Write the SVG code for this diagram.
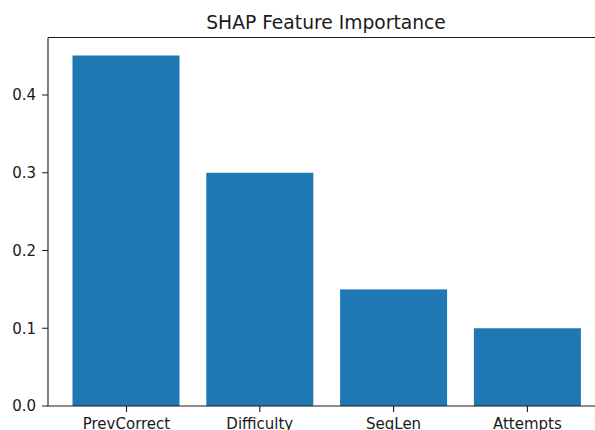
<svg xmlns="http://www.w3.org/2000/svg" width="595" height="430" viewBox="0 0 595 430">
<style>
text{font-family:"DejaVu Sans","Liberation Sans",sans-serif;fill:#1a1a1a}
.tl{font-size:15px}
.bar{fill:#1f77b4}
.sp{stroke:#1a1a1a;stroke-width:1.1;fill:none}
</style>
<rect width="595" height="430" fill="#fff"/>
<text x="326" y="29" font-size="18.7" text-anchor="middle">SHAP Feature Importance</text>
<g id="bars">
<g id="bar-prevcorrect"><rect class="bar" x="72.5" y="55.5" width="107" height="350.5"/></g>
<g id="bar-difficulty"><rect class="bar" x="206.3" y="172.75" width="107" height="233.25"/></g>
<g id="bar-seqlen"><rect class="bar" x="340.1" y="289.4" width="107" height="116.6"/></g>
<g id="bar-attempts"><rect class="bar" x="473.9" y="328.25" width="107" height="77.75"/></g>
</g>
<g id="axes">
<path class="sp" d="M48 37.5V406H595M48 37.5H595"/>
<path class="sp" d="M42 406H48M42 328.25H48M42 250.5H48M42 172.75H48M42 95H48"/>
<path class="sp" d="M126.5 406V412M259.8 406V412M393.6 406V412M527.4 406V412"/>
</g>
<g id="yticks" class="tl" text-anchor="end">
<text x="36" y="411.4">0.0</text>
<text x="36" y="333.65">0.1</text>
<text x="36" y="255.9">0.2</text>
<text x="36" y="178.15">0.3</text>
<text x="36" y="100.4">0.4</text>
</g>
<g id="xticks" class="tl" text-anchor="middle">
<text x="126.5" y="428.6">PrevCorrect</text>
<text x="259.8" y="428.6">Difficulty</text>
<text x="393.6" y="428.6">SeqLen</text>
<text x="527.4" y="428.6">Attempts</text>
</g>
</svg>
